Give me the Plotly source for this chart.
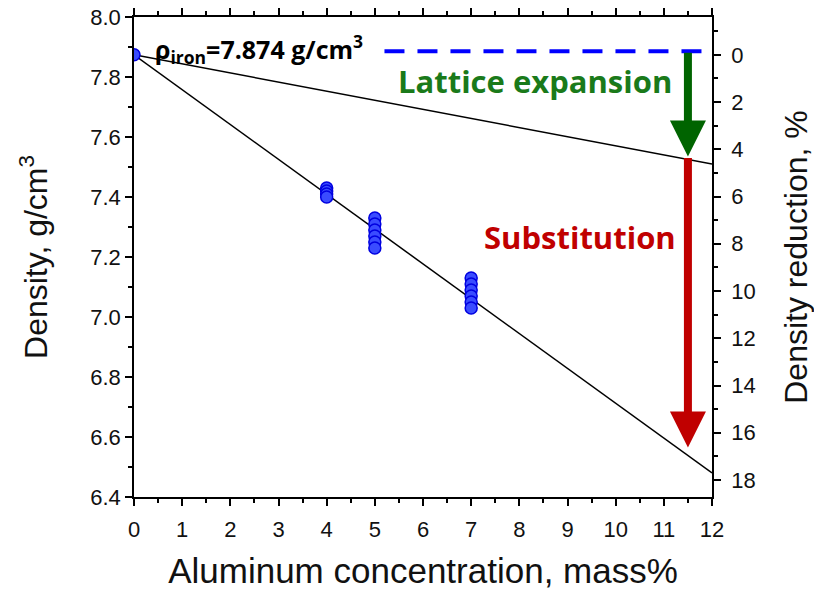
import plotly.graph_objects as go

# ---- data ----
al_mass = [0, 4, 4, 4, 4, 5, 5, 5, 5, 5, 5, 7, 7, 7, 7, 7, 7]
density = [7.874, 7.43, 7.42, 7.41, 7.40,
           7.33, 7.31, 7.29, 7.27, 7.25, 7.23,
           7.13, 7.11, 7.09, 7.07, 7.05, 7.03]

rho_iron = 7.874
subst_line_x = [0, 12]
subst_line_y = [7.874, 6.48]
lattice_line_x = [0, 12]
lattice_line_y = [7.874, 7.51]

dash_x = [5.2, 11.8]
arrow_x = 11.5
arrow_top = 7.886
arrow_mid = 7.535
arrow_bottom = 6.565

x_ticks = list(range(0, 13))
y_ticks = [6.4, 6.6, 6.8, 7.0, 7.2, 7.4, 7.6, 7.8, 8.0]
y2_ticks = [0, 2, 4, 6, 8, 10, 12, 14, 16, 18]

y_range = [6.4, 8.0]
y2_range = [(1 - y_range[0] / rho_iron) * 100, (1 - y_range[1] / rho_iron) * 100]

fig = go.Figure()

fig.add_trace(go.Scatter(x=subst_line_x, y=subst_line_y, mode="lines",
                         line=dict(color="black", width=1.5), showlegend=False))
fig.add_trace(go.Scatter(x=lattice_line_x, y=lattice_line_y, mode="lines",
                         line=dict(color="black", width=1.5), showlegend=False))
fig.add_trace(go.Scatter(x=dash_x, y=[arrow_top, arrow_top], mode="lines",
                         line=dict(color="#0000ff", width=4, dash="20px,13px"), showlegend=False))
fig.add_trace(go.Scatter(x=al_mass, y=density, mode="markers",
                         marker=dict(size=12, color="#3a4cff",
                                     line=dict(color="#0000e0", width=1.5)),
                         showlegend=False))
# invisible trace to activate right axis
fig.add_trace(go.Scatter(x=[0], y=[0], yaxis="y2", mode="markers",
                         marker=dict(opacity=0), showlegend=False, hoverinfo="skip"))

# arrows
fig.add_annotation(x=arrow_x, y=arrow_mid, ax=arrow_x, ay=arrow_top,
                   xref="x", yref="y", axref="x", ayref="y",
                   showarrow=True, arrowhead=2, arrowsize=0.9, arrowwidth=8,
                   arrowcolor="#006400", text="")
fig.add_annotation(x=arrow_x, y=arrow_bottom, ax=arrow_x, ay=arrow_mid,
                   xref="x", yref="y", axref="x", ayref="y",
                   showarrow=True, arrowhead=2, arrowsize=0.9, arrowwidth=8,
                   arrowcolor="#c00000", text="")

fig.add_annotation(x=0.4, y=7.892, xref="x", yref="y", xanchor="left", yanchor="middle",
                   text="<b>ρ<sub>iron</sub>=7.874 g/cm<sup>3</sup></b>", showarrow=False,
                   font=dict(family="Open Sans", size=25, color="black"))
fig.add_annotation(x=8.33, y=7.787, xref="x", yref="y",
                   text="<b>Lattice expansion</b>", showarrow=False,
                   font=dict(family="Open Sans", size=31, color="#1a7a1a"))
fig.add_annotation(x=9.25, y=7.267, xref="x", yref="y",
                   text="<b>Substitution</b>", showarrow=False,
                   font=dict(family="Open Sans", size=31, color="#c00000"))

axis_common = dict(showline=True, linecolor="black", linewidth=1.5,
                   ticks="outside", tickcolor="black", ticklen=7, tickwidth=1.5,
                   showgrid=False, zeroline=False, automargin=False,
                   ticklabeloverflow="allow",
                   tickfont=dict(family="Liberation Sans, Arial", size=22, color="#111"))

x_title_font = dict(family="Liberation Sans, Arial", size=35, color="#111")
y_title_font = dict(family="Liberation Sans, Arial", size=32, color="#111")

fig.update_layout(
    width=814, height=590,
    margin=dict(l=134, r=102, t=17, b=93),
    plot_bgcolor="white", paper_bgcolor="white",
    xaxis=dict(range=[0, 12], tickvals=x_ticks, mirror="ticks", ticklabelstandoff=5,
               minor=dict(dtick=0.5, ticks="outside", ticklen=4, tickcolor="black", tickwidth=1.5),
               title=dict(text="Aluminum concentration, mass%", font=x_title_font, standoff=27),
               **axis_common),
    yaxis=dict(range=y_range, tickvals=y_ticks, ticktext=[f"{v:.1f}" for v in y_ticks],
               minor=dict(dtick=0.1, ticks="outside", ticklen=4, tickcolor="black", tickwidth=1.5),
               title=dict(text="Density, g/cm<sup>3</sup>", font=y_title_font, standoff=33),
               **axis_common),
    yaxis2=dict(range=[y2_range[0], y2_range[1]], overlaying="y", side="right",
                tickvals=y2_ticks, ticklabelstandoff=6,
                minor=dict(dtick=1, ticks="outside", ticklen=4, tickcolor="black", tickwidth=1.5),
                title=dict(text="Density reduction, %", font=y_title_font, standoff=30),
                **axis_common),
)

fig.write_html("out.html", config={"displayModeBar": False},
               post_script="document.body.style.margin='0';document.body.style.overflow='hidden';")
